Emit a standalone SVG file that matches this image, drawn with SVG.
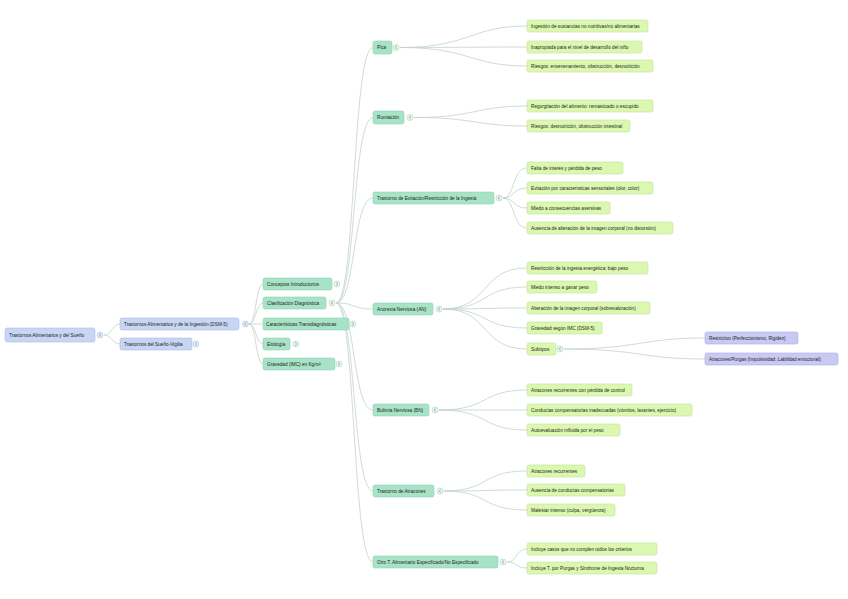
<svg xmlns="http://www.w3.org/2000/svg" width="848" height="599" viewBox="0 0 848 599">
<style>
text{font-family:"Liberation Sans",Arial,sans-serif;font-size:4.7px;fill:#222}
.b{fill:#c8d6f3;stroke:#a9bde6;stroke-width:0.6}
.g{fill:#a8e3c7;stroke:#8fd4b3;stroke-width:0.6}
.l{fill:#dcf8b0;stroke:#bfe49c;stroke-width:0.6}
.p{fill:#c9c9f4;stroke:#adadea;stroke-width:0.6}
.c{fill:#eef6f1;stroke:#a9d2bb;stroke-width:0.6}
.cb{fill:#e6edfa;stroke:#a9bde6;stroke-width:0.6}
.ch{fill:none;stroke:#6f8f7e;stroke-width:0.6}
#edges path{fill:none;stroke:#c3d3c9;stroke-width:0.8}
</style>
<rect width="848" height="599" fill="#ffffff"/>
<g id="edges">
<path d="M104,335 C112,335 112,324 120,324"/>
<path d="M104,335 C112,335 112,344 120,344"/>
<path d="M249,324 C256,324 256,284 263,284"/>
<path d="M249,324 C256,324 256,303 263,303"/>
<path d="M249,324 L263,324"/>
<path d="M249,324 C256,324 256,344 263,344"/>
<path d="M249,324 C256,324 256,364 263,364"/>
<path d="M336,303 C356,303 352,47.5 373,47.5"/>
<path d="M336,303 C356,303 352,117.5 373,117.5"/>
<path d="M336,303 C356,303 352,198 373,198"/>
<path d="M336,303 C356,303 352,309 373,309"/>
<path d="M336,303 C356,303 352,410 373,410"/>
<path d="M336,303 C356,303 352,491 373,491"/>
<path d="M336,303 C356,303 352,562 373,562"/>
<path d="M400,47.5 C470,47.5 470,26 527,26"/>
<path d="M400,47.5 C470,47.5 470,47 527,47"/>
<path d="M400,47.5 C470,47.5 470,66 527,66"/>
<path d="M414,117.5 C475,117.5 475,106 527,106"/>
<path d="M414,117.5 C475,117.5 475,126 527,126"/>
<path d="M503,198 C515,198 512,168 527,168"/>
<path d="M503,198 C515,198 512,188 527,188"/>
<path d="M503,198 C515,198 512,208 527,208"/>
<path d="M503,198 C515,198 512,228 527,228"/>
<path d="M443,309 C490,309 480,268 527,268"/>
<path d="M443,309 C490,309 480,287 527,287"/>
<path d="M443,309 C490,309 480,308 527,308"/>
<path d="M443,309 C490,309 480,328 527,328"/>
<path d="M443,309 C490,309 480,349 527,349"/>
<path d="M564,349 C640,349 640,338 705,338"/>
<path d="M564,349 C640,349 640,359 705,359"/>
<path d="M439,410 C490,410 480,390 527,390"/>
<path d="M439,410 C490,410 480,410 527,410"/>
<path d="M439,410 C490,410 480,430 527,430"/>
<path d="M444,491 C490,491 480,471 527,471"/>
<path d="M444,491 C490,491 480,490 527,490"/>
<path d="M444,491 C490,491 480,510 527,510"/>
<path d="M507,562 C518,562 515,549 527,549"/>
<path d="M507,562 C518,562 515,568 527,568"/>
</g>
<g id="root"><rect class="b" x="5" y="328" width="90" height="14" rx="2"/><text x="9" y="336.7">Trastornos Alimentarios y del Sueño</text><circle class="cb" cx="100" cy="335" r="3"/><path class="ch" d="M101,333.5 L99,335 L101,336.5"/></g>
<g id="n-tai"><rect class="b" x="120" y="318" width="119" height="12" rx="2"/><text x="124" y="325.7">Trastornos Alimentarios y de la Ingestión (DSM-5)</text><circle class="cb" cx="245.5" cy="324" r="3"/><path class="ch" d="M246.5,322.5 L244.5,324 L246.5,325.5"/></g>
<g id="n-sueno"><rect class="b" x="120" y="338" width="72" height="12" rx="2"/><text x="124" y="345.7">Trastornos del Sueño-Vigilia</text><circle class="cb" cx="196" cy="344" r="3"/><path class="ch" d="M195,342.5 L197,344 L195,345.5"/></g>
<g id="n-conceptos"><rect class="g" x="263" y="278" width="69" height="12" rx="2"/><text x="267" y="285.7">Conceptos Introductorios</text><circle class="c" cx="337" cy="284" r="3"/><path class="ch" d="M336,282.5 L338,284 L336,285.5"/></g>
<g id="n-clasif"><rect class="g" x="263" y="297" width="63" height="12" rx="2"/><text x="267" y="304.7">Clasificación Diagnóstica</text><circle class="c" cx="332" cy="303" r="3"/><path class="ch" d="M333,301.5 L331,303 L333,304.5"/></g>
<g id="n-caract"><rect class="g" x="263" y="318" width="86" height="12" rx="2"/><text x="266" y="325.7">Características Transdiagnósticas</text><circle class="c" cx="353" cy="324" r="3"/><path class="ch" d="M352,322.5 L354,324 L352,325.5"/></g>
<g id="n-etiol"><rect class="g" x="263" y="338" width="27" height="12" rx="2"/><text x="267" y="345.7">Etiología</text><circle class="c" cx="296" cy="344" r="3"/><path class="ch" d="M295,342.5 L297,344 L295,345.5"/></g>
<g id="n-grav"><rect class="g" x="263" y="358" width="72" height="12" rx="2"/><text x="267" y="365.7">Gravedad (IMC) en Kg/m²</text><circle class="c" cx="339" cy="364" r="3"/><path class="ch" d="M338,362.5 L340,364 L338,365.5"/></g>
<g id="n-pica"><rect class="g" x="373" y="41" width="19" height="13" rx="2"/><text x="377" y="49.2">Pica</text><circle class="c" cx="396" cy="47.5" r="3"/><path class="ch" d="M397,46 L395,47.5 L397,49"/></g>
<g id="n-rumia"><rect class="g" x="373" y="111" width="31" height="13" rx="2"/><text x="377" y="119.2">Rumiación</text><circle class="c" cx="410" cy="117.5" r="3"/><path class="ch" d="M411,116 L409,117.5 L411,119"/></g>
<g id="n-teria"><rect class="g" x="373" y="192" width="121" height="12" rx="2"/><text x="377" y="199.7">Trastorno de Evitación/Restricción de la Ingesta</text><circle class="c" cx="499" cy="198" r="3"/><path class="ch" d="M500,196.5 L498,198 L500,199.5"/></g>
<g id="n-an"><rect class="g" x="373" y="303" width="60" height="12" rx="2"/><text x="377" y="310.7">Anorexia Nerviosa (AN)</text><circle class="c" cx="439" cy="309" r="3"/><path class="ch" d="M440,307.5 L438,309 L440,310.5"/></g>
<g id="n-bn"><rect class="g" x="373" y="404" width="56" height="12" rx="2"/><text x="377" y="411.7">Bulimia Nerviosa (BN)</text><circle class="c" cx="435" cy="410" r="3"/><path class="ch" d="M436,408.5 L434,410 L436,411.5"/></g>
<g id="n-atrac"><rect class="g" x="373" y="485" width="61" height="12" rx="2"/><text x="377" y="492.7">Trastorno de Atracones</text><circle class="c" cx="440" cy="491" r="3"/><path class="ch" d="M441,489.5 L439,491 L441,492.5"/></g>
<g id="n-otro"><rect class="g" x="373" y="556" width="125" height="12" rx="2"/><text x="377" y="563.7">Otro T. Alimentario Especificado/No Especificado</text><circle class="c" cx="503" cy="562" r="3"/><path class="ch" d="M504,560.5 L502,562 L504,563.5"/></g>
<g id="l-pica1"><rect class="l" x="527" y="20" width="121" height="12" rx="2"/><text x="531" y="27.7">Ingestión de sustancias no nutritivas/no alimentarias</text></g>
<g id="l-pica2"><rect class="l" x="527" y="41" width="115" height="12" rx="2"/><text x="531" y="48.7">Inapropiada para el nivel de desarrollo del niño</text></g>
<g id="l-pica3"><rect class="l" x="527" y="60" width="126" height="12" rx="2"/><text x="531" y="67.7">Riesgos: envenenamiento, obstrucción, desnutrición</text></g>
<g id="l-rum1"><rect class="l" x="527" y="100" width="126" height="12" rx="2"/><text x="531" y="107.7">Regurgitación del alimento: remasticado o escupido</text></g>
<g id="l-rum2"><rect class="l" x="527" y="120" width="103" height="12" rx="2"/><text x="531" y="127.7">Riesgos: desnutrición, obstrucción intestinal</text></g>
<g id="l-ter1"><rect class="l" x="527" y="162" width="96" height="12" rx="2"/><text x="531" y="169.7">Falta de interés y pérdida de peso</text></g>
<g id="l-ter2"><rect class="l" x="527" y="182" width="126" height="12" rx="2"/><text x="531" y="189.7">Evitación por características sensoriales (olor, color)</text></g>
<g id="l-ter3"><rect class="l" x="527" y="202" width="83" height="12" rx="2"/><text x="531" y="209.7">Miedo a consecuencias aversivas</text></g>
<g id="l-ter4"><rect class="l" x="527" y="222" width="146" height="12" rx="2"/><text x="531" y="229.7">Ausencia de alteración de la imagen corporal (no distorsión)</text></g>
<g id="l-an1"><rect class="l" x="527" y="262" width="121" height="12" rx="2"/><text x="531" y="269.7">Restricción de la ingesta energética: bajo peso</text></g>
<g id="l-an2"><rect class="l" x="527" y="281" width="70" height="12" rx="2"/><text x="531" y="288.7">Miedo intenso a ganar peso</text></g>
<g id="l-an3"><rect class="l" x="527" y="302" width="123" height="12" rx="2"/><text x="531" y="309.7">Alteración de la imagen corporal (sobrevaloración)</text></g>
<g id="l-an4"><rect class="l" x="527" y="322" width="75" height="12" rx="2"/><text x="531" y="329.7">Gravedad según IMC (DSM-5)</text></g>
<g id="l-subtipos"><rect class="l" x="527" y="343" width="29" height="12" rx="2"/><text x="531" y="350.7">Subtipos</text><circle class="c" cx="560" cy="349" r="3"/><path class="ch" d="M561,347.5 L559,349 L561,350.5"/></g>
<g id="l-sub1"><rect class="p" x="705" y="332" width="93" height="12" rx="2"/><text x="709" y="339.7">Restrictivo (Perfeccionismo, Rigidez)</text></g>
<g id="l-sub2"><rect class="p" x="705" y="353" width="133" height="12" rx="2"/><text x="709" y="360.7">Atracones/Purgas (Impulsividad, Labilidad emocional)</text></g>
<g id="l-bn1"><rect class="l" x="527" y="384" width="105" height="12" rx="2"/><text x="531" y="391.7">Atracones recurrentes con pérdida de control</text></g>
<g id="l-bn2"><rect class="l" x="527" y="404" width="165" height="12" rx="2"/><text x="531" y="411.7">Conductas compensatorias inadecuadas (vómitos, laxantes, ejercicio)</text></g>
<g id="l-bn3"><rect class="l" x="527" y="424" width="93" height="12" rx="2"/><text x="531" y="431.7">Autoevaluación influida por el peso</text></g>
<g id="l-at1"><rect class="l" x="527" y="465" width="58" height="12" rx="2"/><text x="531" y="472.7">Atracones recurrentes</text></g>
<g id="l-at2"><rect class="l" x="527" y="484" width="98" height="12" rx="2"/><text x="531" y="491.7">Ausencia de conductas compensatorias</text></g>
<g id="l-at3"><rect class="l" x="527" y="504" width="88" height="12" rx="2"/><text x="531" y="511.7">Malestar intenso (culpa, vergüenza)</text></g>
<g id="l-ot1"><rect class="l" x="527" y="543" width="130" height="12" rx="2"/><text x="531" y="550.7">Incluye casos que no cumplen todos los criterios</text></g>
<g id="l-ot2"><rect class="l" x="527" y="562" width="130" height="12" rx="2"/><text x="531" y="569.7">Incluye T. por Purgas y Síndrome de Ingesta Nocturna</text></g>
</svg>
